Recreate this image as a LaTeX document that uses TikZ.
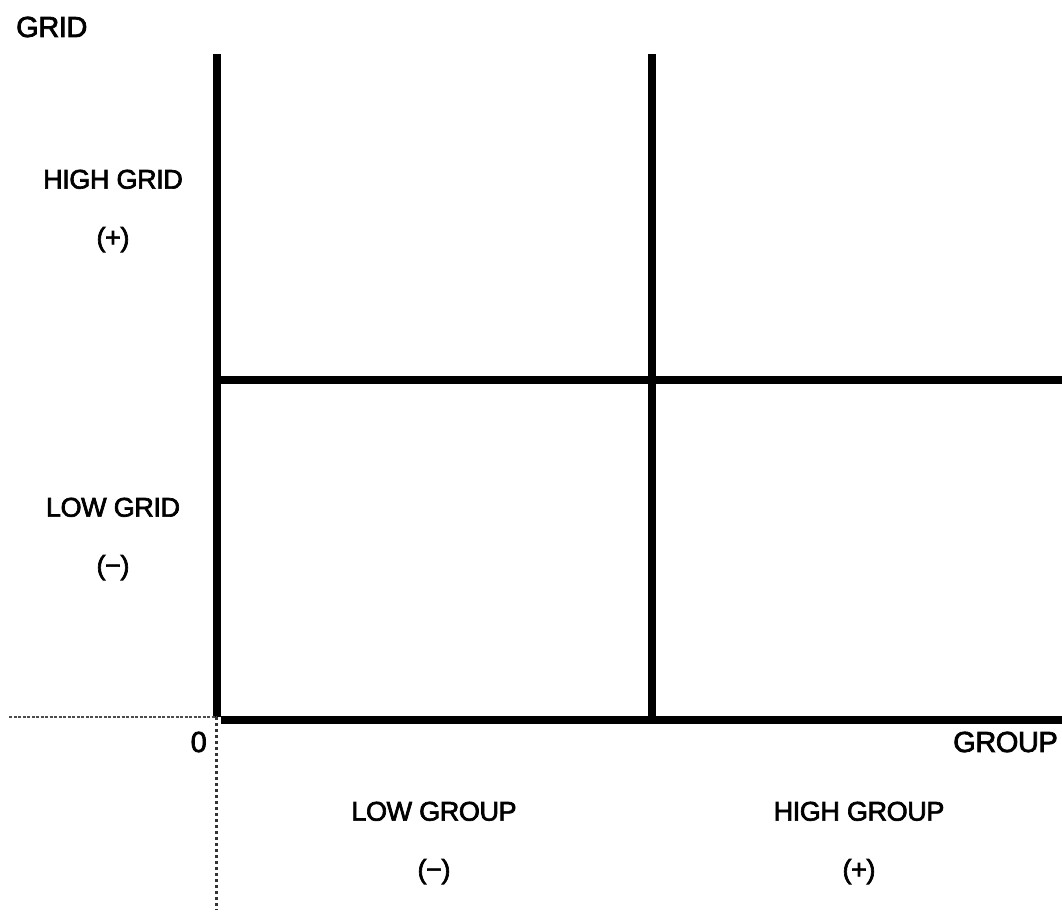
\documentclass[tikz,border=0pt]{standalone}
\usepackage{fontspec}
\setmainfont{Liberation Sans}[FakeBold=2.5, LetterSpace=-1.5]
\usepackage{tikz}
\usetikzlibrary{positioning}
\tikzstyle{axislabel} = [inner sep=0pt, font=\fontsize{29}{30}\selectfont]
\tikzstyle{quadlabel} = [inner sep=0pt, align=center, font=\fontsize{27}{58}\selectfont]
\tikzstyle{bar} = [line width=8pt, line cap=butt]
\tikzstyle{guide} = [line width=1.2pt, gray!60!black]

\begin{document}
\begin{tikzpicture}[x=1pt, y=-1pt]
    \useasboundingbox (0,0) rectangle (1062,915);
    \coordinate (origin) at (216.5,717);
    \coordinate (ytop) at (216.5,54);
    \coordinate (xstart) at (221,720);
    \coordinate (xend) at (1062,720);
    \coordinate (midtop) at (651.5,54);
    \coordinate (midbottom) at (651.5,720);
    \coordinate (midleft) at (221,380);
    \coordinate (midright) at (1062,380);
    \coordinate (dashend) at (9,717);
    \coordinate (dotend) at (216.5,910);

    \node (grid) [axislabel, anchor=west] at (16,27) {GRID};
    \node (group) [axislabel, anchor=east] at (1058,742) {GROUP};
    \node (zero) [axislabel, anchor=east] at (207,742) {0};

    \node (highgrid) [quadlabel] at (113,211) {HIGH GRID\\(+)};
    \node (lowgrid) [quadlabel] at (113,539) {LOW GRID\\(−)};
    \node (lowgroup) [quadlabel] at (434,843) {LOW GROUP\\(−)};
    \node (highgroup) [quadlabel] at (859,843) {HIGH GROUP\\(+)};

    \draw [bar] (origin) -- (ytop);
    \draw [bar] (xstart) -- (xend);
    \draw [bar] (midbottom) -- (midtop);
    \draw [bar] (midleft) -- (midright);
    \draw [guide, dash pattern=on 3pt off 1.5pt] (dashend) -- (origin);
    \draw [guide, black!80, line width=2.2pt, dash pattern=on 2.5pt off 3.5pt] (origin) -- (dotend);
\end{tikzpicture}
\end{document}
